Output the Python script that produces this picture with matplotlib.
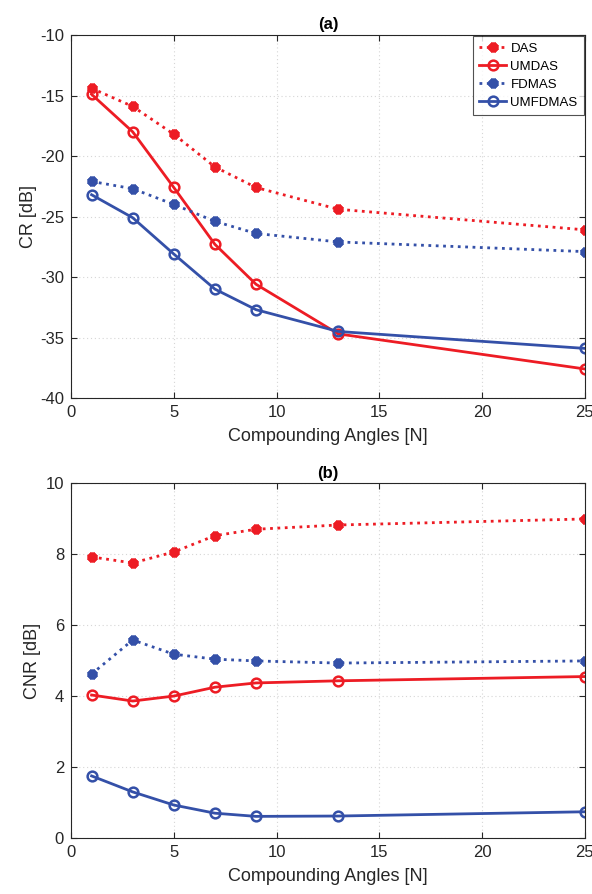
import numpy as np
import matplotlib.pyplot as plt

plt.rcParams['font.family'] = ['Liberation Sans', 'DejaVu Sans']
plt.rcParams['axes.unicode_minus'] = False

angles = [1, 3, 5, 7, 9, 13, 25]

cr_das = [-14.4, -15.9, -18.2, -20.9, -22.6, -24.4, -26.1]
cr_umdas = [-14.9, -18.0, -22.6, -27.3, -30.6, -34.7, -37.6]
cr_fdmas = [-22.1, -22.7, -24.0, -25.4, -26.4, -27.1, -27.9]
cr_umfdmas = [-23.2, -25.1, -28.1, -31.0, -32.7, -34.5, -35.9]

cnr_das = [7.92, 7.75, 8.06, 8.52, 8.70, 8.82, 8.99]
cnr_umdas = [4.03, 3.86, 4.00, 4.25, 4.37, 4.43, 4.55]
cnr_fdmas = [4.62, 5.58, 5.18, 5.04, 4.99, 4.93, 4.99]
cnr_umfdmas = [1.75, 1.30, 0.93, 0.70, 0.61, 0.62, 0.74]

labels = ['DAS', 'UMDAS', 'FDMAS', 'UMFDMAS']
RED = '#ED1C24'
BLUE = '#3450A8'
TXT = '#262626'

fig = plt.figure(figsize=(5.92, 8.94), dpi=100)
ax1 = fig.add_axes([0.120, 0.5548, 0.868, 0.406])
ax2 = fig.add_axes([0.120, 0.0626, 0.868, 0.397])

star = (8, 2, 0)


def draw(ax, series):
    styles = [
        dict(color=RED, linestyle=':', marker=star, markersize=7, markeredgewidth=3),
        dict(color=RED, linestyle='-', marker='o', markersize=7, markerfacecolor='none', markeredgewidth=1.8),
        dict(color=BLUE, linestyle=':', marker=star, markersize=7, markeredgewidth=3),
        dict(color=BLUE, linestyle='-', marker='o', markersize=7, markerfacecolor='none', markeredgewidth=1.8),
    ]
    for vals, lab, st in zip(series, labels, styles):
        ax.plot(angles, vals, linewidth=2, label=lab, **st)
    ax.set_xlim(0, 25)
    ax.set_xticks([0, 5, 10, 15, 20, 25])
    ax.grid(True, linestyle=(0, (1, 2.5)), color='#d6d6d6', linewidth=0.8)
    ax.tick_params(direction='in', top=True, right=True, labelsize=12, colors=TXT,
                   length=4, pad=5)
    for s in ax.spines.values():
        s.set_color('#262626')
        s.set_linewidth(0.8)
    ax.set_xlabel('Compounding Angles [N]', fontsize=13, color=TXT, labelpad=6)


draw(ax1, [cr_das, cr_umdas, cr_fdmas, cr_umfdmas])
ax1.set_ylim(-40, -10)
ax1.set_yticks(np.arange(-40, -9, 5))
ax1.set_ylabel('CR [dB]', fontsize=13, color=TXT, labelpad=2)
ax1.set_title('(a)', fontsize=12, fontweight='bold', pad=4)
leg = ax1.legend(loc='upper right', fontsize=9.5, frameon=True, fancybox=False,
                 edgecolor='#262626', handlelength=2.1, borderaxespad=0.1,
                 labelspacing=0.45, handletextpad=0.3, borderpad=0.45)
leg.get_frame().set_linewidth(0.8)

draw(ax2, [cnr_das, cnr_umdas, cnr_fdmas, cnr_umfdmas])
ax2.set_ylim(0, 10)
ax2.set_yticks(np.arange(0, 11, 2))
ax2.set_ylabel('CNR [dB]', fontsize=13, color=TXT, labelpad=3.5)
ax2.set_title('(b)', fontsize=12, fontweight='bold', pad=4)

fig.savefig('out.png', dpi=100)
